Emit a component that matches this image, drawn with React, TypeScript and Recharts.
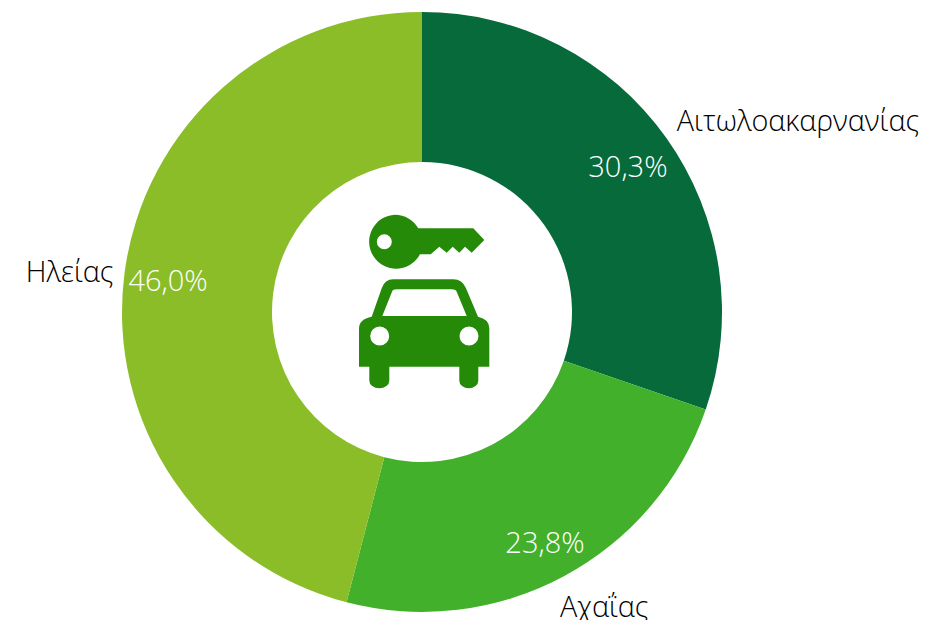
import React from 'react';
import { PieChart, Pie, Cell } from 'recharts';

const regions = ['Αιτωλοακαρνανίας', 'Αχαΐας', 'Ηλείας'];
const shares = [30.3, 23.8, 46.0];
const colors = ['#066A3A', '#42B02A', '#8ABD28'];

const data = regions.map((name, i) => ({ name, value: shares[i] }));

const FONT = '"Open Sans", sans-serif';
const ICON_COLOR = '#248A08';
const RAD = Math.PI / 180;

// radial distance, anchor and nudge of the labels, one per slice
const nameRadius = [313, 326, 313];
const nameAnchor = ['start', 'middle', 'end'];
const nameNudge = [[0, -11], [28, 6], [2, -2]];
const percentRadius = [253, 260, 256];

const renderLabel = (props: any) => {
  const { cx, cy, midAngle, index, name, value } = props;
  const cos = Math.cos(midAngle * RAD);
  const sin = Math.sin(midAngle * RAD);
  const nr = nameRadius[index];
  const pr = percentRadius[index];
  const [nx, ny] = nameNudge[index];
  return (
    <g key={name}>
      <text
        x={cx + nr * cos + nx}
        y={cy - nr * sin + ny}
        textAnchor={nameAnchor[index]}
        dominantBaseline="central"
        fontFamily={FONT}
        fontWeight={300}
        fontSize={28.8}
        fill="#000000"
      >
        {name}
      </text>
      <text
        x={cx + pr * cos}
        y={cy - pr * sin}
        textAnchor="middle"
        dominantBaseline="central"
        fontFamily={FONT}
        fontWeight={300}
        fontSize={29}
        fill="#ffffff"
      >
        {value.toFixed(1).replace('.', ',') + '%'}
      </text>
    </g>
  );
};

const KeyCarIcon = () => (
  <svg
    width={944}
    height={620}
    style={{ position: 'absolute', left: 0, top: 0, pointerEvents: 'none' }}
  >
    <path
      fill={ICON_COLOR}
      fillRule="evenodd"
      d="M395 214.7a27 27 0 1 0 25 39.6h10.7l8.6-7.6 7.4 6 6-6 6.6 6 5.7-6 6.7 6 12.6-12.7-11-11.7h-55a27 27 0 0 0-23.3-13.6zm-10.7 19.5a7.5 7.5 0 1 1 0 15 7.5 7.5 0 0 1 0-15z"
    />
    <path
      fill={ICON_COLOR}
      fillRule="evenodd"
      d="M371.7 316.7l10-28.4q3-9 11.6-9h60q9 0 12.7 9l12 28.4q11.3 2.5 11.3 11.6v38.4h-11v14a9.5 7.6 0 0 1-19 0v-14h-70v14a10 7.6 0 0 1-20 0v-14H359v-38.4q0-9.1 12.7-11.6zM382.3 316h84.4l-10-24.3q-1.2-2.4-5-2.4h-55q-3.8 0-4.7 2.4zM379.7 326.5a9.5 9.5 0 1 0 0 19 9.5 9.5 0 0 0 0-19zM469 326.5a9.5 9.5 0 1 0 0 19 9.5 9.5 0 0 0 0-19z"
    />
  </svg>
);

export default function App() {
  return (
    <div style={{ position: 'absolute', left: 0, top: 0, width: 944, height: 620 }}>
      <PieChart width={944} height={620} margin={{ top: 0, right: 0, bottom: 0, left: 0 }}>
        <Pie
          data={data}
          dataKey="value"
          nameKey="name"
          cx={422}
          cy={312}
          innerRadius={150}
          outerRadius={300}
          startAngle={90}
          endAngle={-270}
          stroke="none"
          label={renderLabel}
          labelLine={false}
          isAnimationActive={false}
        >
          {data.map((entry, i) => (
            <Cell key={entry.name} fill={colors[i]} />
          ))}
        </Pie>
      </PieChart>
      <KeyCarIcon />
    </div>
  );
}
